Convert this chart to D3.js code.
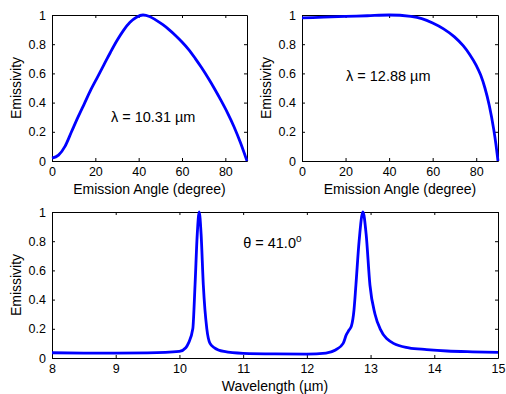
<!DOCTYPE html>
<html>
<head>
<meta charset="utf-8">
<script src="https://cdn.jsdelivr.net/npm/d3@7"></script>
<style>
  body { margin: 0; background: #fff; }
  svg text { font-family: "Liberation Sans", Arial, sans-serif; fill: #000; }
  .axis path, .axis line { stroke: #000; }
</style>
</head>
<body>
<svg id="chart" width="506" height="394"></svg>
<script>
// angle sweep at lambda = 10.31 um
const angleA = [0, 3, 6, 9, 12, 15, 18, 21, 24, 27, 30, 33, 36, 39, 42, 45, 48, 51, 54, 57, 60, 63, 66, 69, 72, 75, 78, 81, 84, 87, 90];
const emisA  = [0.02, 0.04, 0.10, 0.20, 0.30, 0.395, 0.49, 0.575, 0.66, 0.745, 0.825, 0.895, 0.95, 0.985, 1.0, 0.99, 0.965, 0.935, 0.90, 0.86, 0.815, 0.765, 0.705, 0.64, 0.57, 0.495, 0.415, 0.33, 0.235, 0.125, 0.0];

// angle sweep at lambda = 12.88 um
const angleB = [0, 10, 20, 30, 40, 50, 55, 60, 65, 70, 74, 77, 80, 82, 84, 86, 88, 89, 90];
const emisB  = [0.98, 0.985, 0.99, 0.995, 1.0, 0.99, 0.975, 0.945, 0.905, 0.85, 0.79, 0.73, 0.655, 0.59, 0.50, 0.38, 0.22, 0.12, 0.0];

// wavelength sweep at theta = 41 deg
const wavelength = [8, 8.5, 9, 9.5, 10, 10.1, 10.14, 10.21, 10.245, 10.28, 10.31, 10.34, 10.375, 10.43, 10.48, 10.55, 10.7, 11, 11.5, 12, 12.3, 12.45, 12.57, 12.62, 12.66, 12.7, 12.74, 12.77, 12.82, 12.88, 12.93, 12.99, 13.07, 13.15, 13.36, 13.6, 13.88, 14.2, 14.6, 15];
const emisC      = [0.036, 0.034, 0.033, 0.035, 0.045, 0.07, 0.1, 0.2, 0.5, 0.85, 1.0, 0.85, 0.5, 0.2, 0.1, 0.07, 0.045, 0.032, 0.028, 0.027, 0.034, 0.055, 0.1, 0.16, 0.19, 0.22, 0.33, 0.5, 0.8, 1.0, 0.85, 0.5, 0.3, 0.2, 0.1, 0.07, 0.058, 0.048, 0.042, 0.038];

const yTicks = [0, 0.2, 0.4, 0.6, 0.8, 1];
const angleTicks = [0, 20, 40, 60, 80];
const waveTicks = [8, 9, 10, 11, 12, 13, 14, 15];

const svg = d3.select("#chart");

const drawPanel = (p) => {
    const x = d3.scaleLinear().domain(p.xDomain).range([p.left, p.right]);
    const y = d3.scaleLinear().domain([0, 1]).range([p.bottom, p.top]);
    const g = svg.append("g");

    // ticks on all four sides, pointing inward
    g.append("g").attr("class", "axis")
        .attr("transform", "translate(0," + p.bottom + ")")
        .call(d3.axisBottom(x).tickValues(p.xTicks).tickSizeInner(-3).tickSizeOuter(0).tickPadding(6).tickFormat(d3.format("d")));
    g.append("g").attr("class", "axis")
        .attr("transform", "translate(0," + p.top + ")")
        .call(d3.axisTop(x).tickValues(p.xTicks).tickSizeInner(-3).tickSizeOuter(0).tickFormat(""));
    g.append("g").attr("class", "axis")
        .attr("transform", "translate(" + p.left + ",0)")
        .call(d3.axisLeft(y).tickValues(yTicks).tickSizeInner(-3).tickSizeOuter(0).tickPadding(6).tickFormat((d) => d3.format("~g")(d)));
    g.append("g").attr("class", "axis")
        .attr("transform", "translate(" + p.right + ",0)")
        .call(d3.axisRight(y).tickValues(yTicks).tickSizeInner(-3).tickSizeOuter(0).tickFormat(""));

    g.selectAll(".axis text").style("font-size", "12.5px").style("font-family", "'Liberation Sans', Arial, sans-serif").attr("fill", "#000");
    g.selectAll(".axis .domain").attr("stroke", "#000");

    const pts = p.xs.map((v, i) => [v, p.ys[i]]);
    g.append("path")
        .datum(pts)
        .attr("fill", "none")
        .attr("stroke", "#0000ff")
        .attr("stroke-width", 2.8)
        .attr("stroke-linejoin", "round")
        .attr("d", d3.line().x((d) => x(d[0])).y((d) => y(d[1])).curve(d3.curveMonotoneX));

    g.append("text")
        .attr("x", (p.left + p.right) / 2)
        .attr("y", p.bottom + 33)
        .attr("text-anchor", "middle")
        .style("font-size", "14px")
        .text(p.xLabel);

    g.append("text")
        .attr("transform", "translate(" + (p.left - 31) + "," + ((p.top + p.bottom) / 2) + ") rotate(-90)")
        .attr("text-anchor", "middle")
        .style("font-size", "14px")
        .text("Emissivity");

    const note = g.append("text")
        .attr("x", x(p.note.x))
        .attr("y", y(p.note.y))
        .style("font-size", "14.5px");
    p.note.write(note);
};

drawPanel({
    left: 52, right: 247, top: 15, bottom: 161,
    xDomain: [0, 90], xTicks: angleTicks, xs: angleA, ys: emisA,
    xLabel: "Emission Angle (degree)",
    note: { x: 27.2, y: 0.267, write: (t) => t.text("λ = 10.31 µm") }
});

drawPanel({
    left: 302, right: 498, top: 15, bottom: 161,
    xDomain: [0, 90], xTicks: angleTicks, xs: angleB, ys: emisB,
    xLabel: "Emission Angle (degree)",
    note: { x: 20.2, y: 0.548, write: (t) => t.text("λ = 12.88 µm") }
});

drawPanel({
    left: 52, right: 498, top: 212, bottom: 358,
    xDomain: [8, 15], xTicks: waveTicks, xs: wavelength, ys: emisC,
    xLabel: "Wavelength (µm)",
    note: { x: 11.0, y: 0.753, write: (t) => {
        t.append("tspan").text("θ = 41.0");
        t.append("tspan").attr("dy", -6).style("font-size", "10px").text("o");
    } }
});
</script>
</body>
</html>
